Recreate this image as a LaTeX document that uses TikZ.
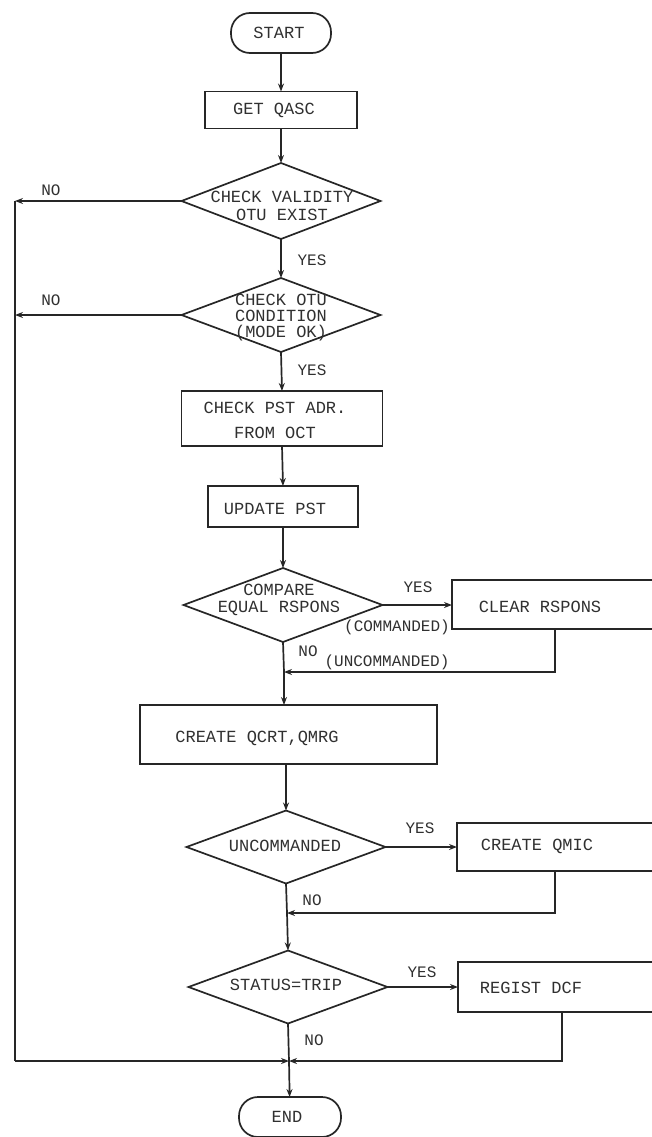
\documentclass[tikz,border=0pt]{standalone}
\usepackage{fontspec}
\setmonofont{Liberation Mono}
\usetikzlibrary{arrows.meta,shapes.geometric}
\definecolor{ink}{HTML}{262626}
\definecolor{type}{HTML}{303030}
\begin{document}
\begin{tikzpicture}[x=1pt,y=-1pt,
  every node/.style={inner sep=0pt,outer sep=0pt},
  line/.style={draw=ink,line width=1.7pt},
  flow/.style={line,-{Stealth[length=8pt,width=6pt]}},
  term/.style={line,rectangle,rounded corners=19pt,minimum width=#1,minimum height=40pt},
  proc/.style={line,rectangle},
  cond/.style={line,diamond,minimum width=199pt,minimum height=#1},
  txt/.style={font=\ttfamily\fontsize{17}{18}\selectfont,text=type,align=center},
  lbl/.style={font=\ttfamily\fontsize{16}{16}\selectfont,text=type}
]
\useasboundingbox (0,0) rectangle (651,1137);

% ---- shapes ----
\node[term=100pt] (start) at (281,33) {};
\node[proc,minimum width=152pt,minimum height=37pt] (getq) at (281,110) {};
\node[cond=76pt] (d1) at (281,201) {};
\node[cond=74pt] (d2) at (281,315) {};
\node[proc,minimum width=201pt,minimum height=55pt] (pst) at (282,418.5) {};
\node[proc,minimum width=150pt,minimum height=41pt] (upd) at (283,506.5) {};
\node[cond=74pt] (d3) at (283,605) {};
\node[proc,minimum width=208pt,minimum height=49pt] (clr) at (556,604.5) {};
\node[proc,minimum width=297pt,minimum height=59pt] (qcrt) at (288.5,734.5) {};
\node[cond=73pt] (d4) at (286,847) {};
\node[proc,minimum width=203pt,minimum height=48pt] (qmic) at (558.5,847) {};
\node[cond=73pt] (d5) at (288,987) {};
\node[proc,minimum width=202pt,minimum height=50pt] (dcf) at (559,987) {};
\node[term=102pt] (end) at (290,1117) {};

% ---- texts ----
\node[txt] (startT) at (279,33) {START};
\node[txt] (getqT) at (274,110) {GET QASC};
\node[txt] (d1T) at (282,206) {CHECK VALIDITY\\OTU EXIST};
\node[txt,font=\ttfamily\fontsize{17}{16}\selectfont] (d2T) at (281,318) {CHECK OTU\\CONDITION\\(MODE OK)};
\node[txt,font=\ttfamily\fontsize{17}{25}\selectfont] (pstT) at (275,420) {CHECK PST ADR.\\FROM OCT};
\node[txt] (updT) at (275,509) {UPDATE PST};
\node[txt,font=\ttfamily\fontsize{17}{17}\selectfont] (d3T) at (279,600) {COMPARE\\EQUAL RSPONS};
\node[txt] (clrT) at (540,607) {CLEAR RSPONS};
\node[txt] (qcrtT) at (257,738) {CREATE QCRT,QMRG};
\node[txt] (d4T) at (285,846) {UNCOMMANDED};
\node[txt] (qmicT) at (537,846) {CREATE QMIC};
\node[txt] (d5T) at (286,985) {STATUS=TRIP};
\node[txt] (dcfT) at (531,988) {REGIST DCF};
\node[txt] (endT) at (287,1117) {END};

% ---- branch labels ----
\node[lbl] (no1) at (51,190) {NO};
\node[lbl] (no2) at (51,300) {NO};
\node[lbl] (yes1) at (312,260) {YES};
\node[lbl] (yes2) at (312,370) {YES};
\node[lbl] (yes3) at (418,587) {YES};
\node[lbl] (cmd) at (397,627) {(COMMANDED)};
\node[lbl] (no3) at (308,651) {NO};
\node[lbl] (ucmd) at (387,662) {(UNCOMMANDED)};
\node[lbl] (yes4) at (420,828) {YES};
\node[lbl] (no4) at (312,900) {NO};
\node[lbl] (yes5) at (422,972) {YES};
\node[lbl] (no5) at (314,1040) {NO};

% ---- junction points ----
\coordinate (j1) at (284,672);
\coordinate (r1) at (555,672);
\coordinate (j2) at (287,913);
\coordinate (r2) at (555,913);
\coordinate (m) at (289,1061);
\coordinate (r3) at (562,1061);
\coordinate (lb) at (15,1061);

% ---- main flow ----
\draw[flow] (start) -- (getq);
\draw[flow] (getq) -- (d1);
\draw[flow] (d1) -- (d2);
\draw[flow] (d2.south) -- (pst.north);
\draw[flow] (pst.south) -- (upd.north);
\draw[flow] (upd.south) -- (d3.north);
\draw[line] (d3.south) -- (j1);
\draw[flow] (j1) -- (j1 |- qcrt.north);
\draw[flow] (qcrt.south -| d4.north) -- (d4.north);
\draw[line] (d4.south) -- (j2);
\draw[flow] (j2) -- (d5.north);
\draw[line] (d5.south) -- (m);
\draw[flow] (m) -- (end);

% ---- YES branches ----
\draw[flow] (d3.east) -- (d3.east -| clr.west);
\draw[flow] (clr.south -| r1) -- (r1) -- (j1);
\draw[flow] (d4.east) -- (d4.east -| qmic.west);
\draw[flow] (qmic.south -| r2) -- (r2) -- (j2);
\draw[flow] (d5.east) -- (d5.east -| dcf.west);
\draw[flow] (dcf.south -| r3) -- (r3) -- (m);

% ---- NO branches to the end ----
\draw[flow] (d1.west) -- (d1.west -| lb);
\draw[flow] (d2.west) -- (d2.west -| lb);
\draw[line] (d1.west -| lb) -- (lb);
\draw[flow] (lb) -- (m);
\end{tikzpicture}
\end{document}
